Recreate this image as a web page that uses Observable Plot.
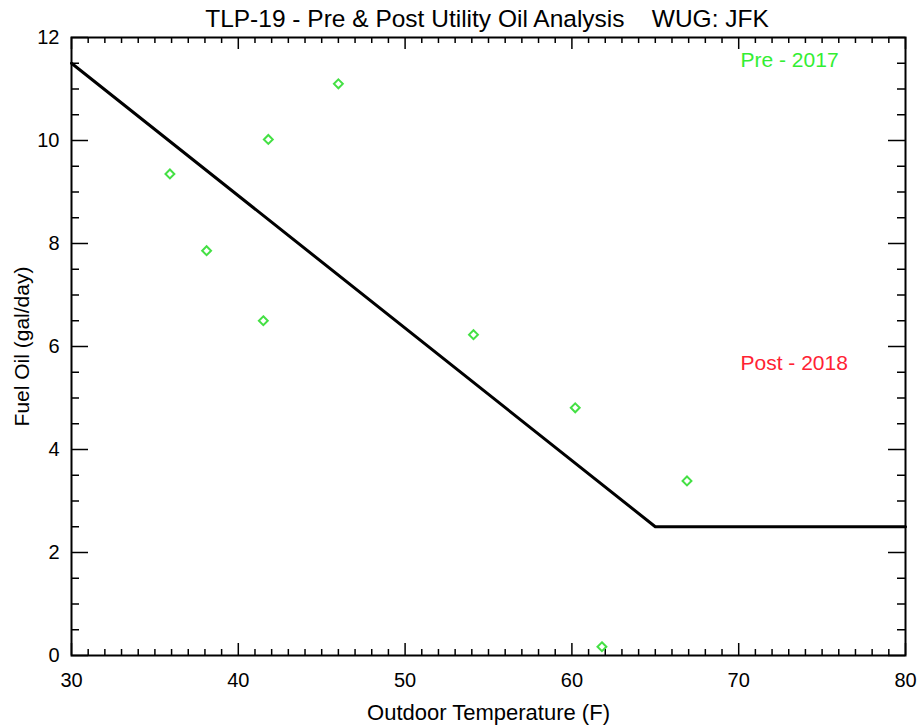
<!DOCTYPE html>
<html>
<head>
<meta charset="utf-8">
<script src="https://cdn.jsdelivr.net/npm/d3@7"></script>
<script src="https://cdn.jsdelivr.net/npm/@observablehq/plot@0.6"></script>
<style>
  body { margin: 0; background: #fff; font-family: "Liberation Sans", Arial, sans-serif; }
  #wrap { position: relative; width: 918px; height: 725px; }
  #title { position: absolute; top: 7px; left: 0; width: 918px; box-sizing: border-box; padding-left: 56px;
           text-align: center; font-size: 24.5px; line-height: 24px; color: #000; white-space: pre; z-index: 2; }
</style>
</head>
<body>
<div id="wrap">
<div id="title">TLP-19 - Pre &amp; Post Utility Oil Analysis    WUG: JFK</div>
<div id="chart"></div>
</div>
<script>
// Observed data (Pre - 2017)
const preTemp = [35.9, 38.1, 41.5, 41.8, 46.0, 54.1, 60.2, 61.8, 66.9];
const preOil  = [9.35, 7.86, 6.50, 10.02, 11.10, 6.23, 4.81, 0.17, 3.39];

// Baseline model line
const modelTemp = [30, 65, 80];
const modelOil  = [11.5, 2.5, 2.5];

// Axis ticks
const xMajor = [30, 40, 50, 60, 70, 80];
const xMinor = [31,32,33,34,35,36,37,38,39,41,42,43,44,45,46,47,48,49,51,52,53,54,55,56,57,58,59,61,62,63,64,65,66,67,68,69,71,72,73,74,75,76,77,78,79];
const yMajor = [0, 2, 4, 6, 8, 10, 12];
const yMinor = [0.5,1,1.5,2.5,3,3.5,4.5,5,5.5,6.5,7,7.5,8.5,9,9.5,10.5,11,11.5];

const seriesLabels = ["Pre - 2017", "Post - 2018"];

const W = 918, H = 725;
const mL = 71, mR = 13, mT = 37, mB = 70;
const fw = W - mL - mR, fh = H - mT - mB;
const majX = 12, minX = 6, majY = 17, minY = 8;

const points = preTemp.map((t, i) => ({t, oil: preOil[i]}));
const model = modelTemp.map((t, i) => ({t, oil: modelOil[i]}));

const chart = Plot.plot({
  width: W, height: H,
  marginLeft: mL, marginRight: mR, marginTop: mT, marginBottom: mB,
  style: {fontFamily: "'Liberation Sans', Arial, sans-serif", background: "#fff", color: "#000", overflow: "visible"},
  x: {domain: [30, 80]},
  y: {domain: [0, 12]},
  marks: [
    // ticks inside the box, all four sides
    Plot.tickX(xMajor, {x: d => d, insetTop: fh - majX, stroke: "#000", strokeWidth: 1.5}),
    Plot.tickX(xMajor, {x: d => d, insetBottom: fh - majX, stroke: "#000", strokeWidth: 1.5}),
    Plot.tickX(xMinor, {x: d => d, insetTop: fh - minX, stroke: "#000", strokeWidth: 1.5}),
    Plot.tickX(xMinor, {x: d => d, insetBottom: fh - minX, stroke: "#000", strokeWidth: 1.5}),
    Plot.tickY(yMajor, {y: d => d, insetRight: fw - majY, stroke: "#000", strokeWidth: 1.5}),
    Plot.tickY(yMajor, {y: d => d, insetLeft: fw - majY, stroke: "#000", strokeWidth: 1.5}),
    Plot.tickY(yMinor, {y: d => d, insetRight: fw - minY, stroke: "#000", strokeWidth: 1.5}),
    Plot.tickY(yMinor, {y: d => d, insetLeft: fw - minY, stroke: "#000", strokeWidth: 1.5}),
    Plot.axisX(xMajor, {tickSize: 0, tickPadding: 17, fontSize: 20, label: null, tickFormat: d => String(d)}),
    Plot.axisY(yMajor, {tickSize: 0, tickPadding: 12, fontSize: 20, label: null, tickFormat: d => String(d)}),
    Plot.text(["Outdoor Temperature (F)"], {frameAnchor: "bottom", dy: 57, lineAnchor: "middle", fontSize: 22, text: d => d}),
    Plot.text(["Fuel Oil (gal/day)"], {frameAnchor: "left", dx: -49, rotate: -90, textAnchor: "middle", lineAnchor: "middle", fontSize: 21, text: d => d}),
    Plot.line(model, {x: "t", y: "oil", stroke: "#000", strokeWidth: 3}),
    Plot.dot(points, {x: "t", y: "oil", symbol: "diamond2", r: 4, stroke: "#44e044", strokeWidth: 2, fill: "none"}),
    Plot.text([seriesLabels[0]], {frameAnchor: "top-left", dx: 669, dy: 23, lineAnchor: "middle", fontSize: 21, fill: "#33ee33", textAnchor: "start", text: d => d}),
    Plot.text([seriesLabels[1]], {frameAnchor: "top-left", dx: 669, dy: 326, lineAnchor: "middle", fontSize: 21, fill: "#ff2233", textAnchor: "start", text: d => d}),
    Plot.frame({stroke: "#000", strokeWidth: 2})
  ]
});
document.getElementById("chart").appendChild(chart);
</script>
</body>
</html>
